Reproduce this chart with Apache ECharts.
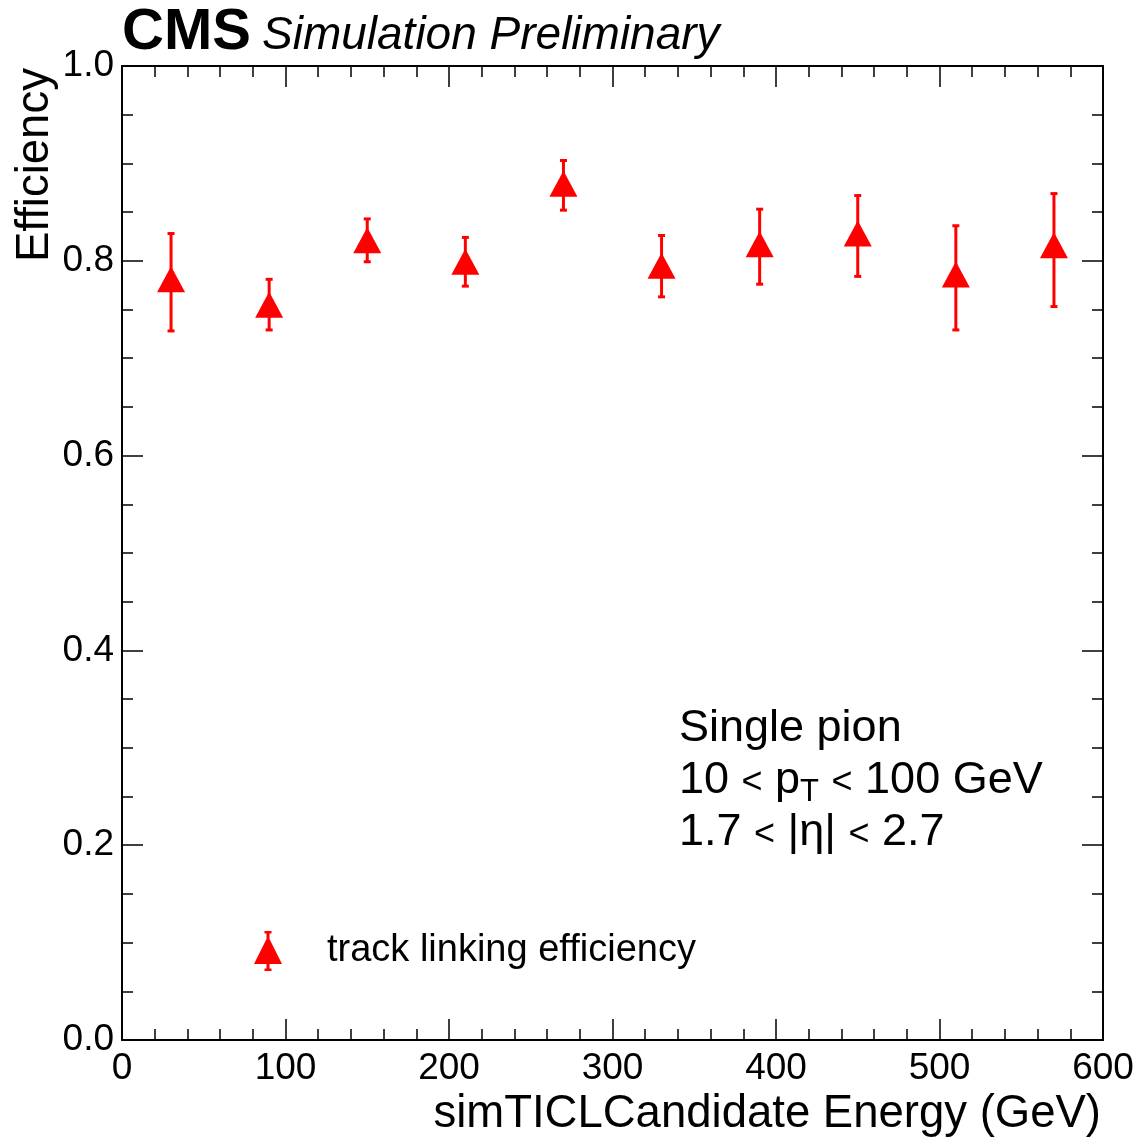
<!DOCTYPE html>
<html><head><meta charset="utf-8">
<script src="https://cdn.jsdelivr.net/npm/echarts@6/dist/echarts.min.js"></script>
<style>html,body{margin:0;padding:0;background:#fff}#c{width:1138px;height:1138px}</style>
</head><body><div id="c"></div>
<script>
// ---- data ----
const energy      = [30, 90, 150, 210, 270, 330, 390, 450, 510, 570];
const efficiency  = [0.781, 0.755, 0.821, 0.799, 0.879, 0.795, 0.817, 0.828, 0.786, 0.816];
const effLow      = [0.728, 0.729, 0.799, 0.774, 0.852, 0.763, 0.776, 0.784, 0.729, 0.753];
const effHigh     = [0.828, 0.781, 0.843, 0.824, 0.903, 0.826, 0.853, 0.867, 0.836, 0.869];
const xTickLabels = ['0', '100', '200', '300', '400', '500', '600'];
const yTickLabels = ['0.0', '0.2', '0.4', '0.6', '0.8', '1.0'];
const seriesName  = 'track linking efficiency';

const FONT = '"Liberation Sans", Arial, Helvetica, sans-serif';
const RED = '#ff0000';

const chart = echarts.init(document.getElementById('c'), null, {renderer: 'canvas'});

// text measurement helper
const mctx = document.createElement('canvas').getContext('2d');
function tw(t, size) { mctx.font = size + 'px ' + FONT; return mctx.measureText(t).width; }
function baseY(b, fs) { return b - 0.3465 * fs; }

// lay out a line of text segments [text, fontSize, baselineShift] left to right
function lineSegments(x0, baseline, segs) {
  const out = [];
  let x = x0;
  segs.forEach(s => {
    const fs = s[1], shift = s[2] || 0;
    out.push({type: 'text', x: x, y: baseY(baseline + shift, fs),
      style: {text: s[0], font: fs + 'px ' + FONT, fill: '#000', align: 'left', verticalAlign: 'middle'}});
    x += tw(s[0], fs);
  });
  return out;
}

const annFs = 45, subFs = 31, ltFs = 36;
const annX = 679;

const axisCommon = {
  type: 'value',
  axisLine: {show: true, onZero: false, lineStyle: {color: '#000', width: 2}},
  axisTick: {show: true, inside: true, length: 21, lineStyle: {color: '#000', width: 1.5}},
  minorTick: {show: true, length: 11, lineStyle: {color: '#000', width: 1.5}},
  splitLine: {show: false},
  minorSplitLine: {show: false}
};

const option = {
  backgroundColor: '#fff',
  animation: false,
  grid: {left: 122, right: 35, top: 66, bottom: 98, containLabel: false},
  xAxis: [
    Object.assign({}, axisCommon, {
      position: 'bottom', min: 0, max: 600, interval: 100,
      minorTick: Object.assign({}, axisCommon.minorTick, {splitNumber: 5}),
      axisLabel: {show: true, margin: 10, fontSize: 37, color: '#000', fontFamily: FONT,
        showMinLabel: true, showMaxLabel: true,
        formatter: v => xTickLabels[Math.round(v / 100)]}
    }),
    Object.assign({}, axisCommon, {
      position: 'top', min: 0, max: 600, interval: 100,
      minorTick: Object.assign({}, axisCommon.minorTick, {splitNumber: 5}),
      axisLabel: {show: false}
    })
  ],
  yAxis: [
    Object.assign({}, axisCommon, {
      position: 'left', min: 0, max: 1, interval: 0.2,
      minorTick: Object.assign({}, axisCommon.minorTick, {splitNumber: 4}),
      axisLabel: {show: true, margin: 8, fontSize: 37, color: '#000', fontFamily: FONT,
        showMinLabel: true, showMaxLabel: true,
        formatter: v => yTickLabels[Math.round(v / 0.2)]}
    }),
    Object.assign({}, axisCommon, {
      position: 'right', min: 0, max: 1, interval: 0.2,
      minorTick: Object.assign({}, axisCommon.minorTick, {splitNumber: 4}),
      axisLabel: {show: false}
    })
  ],
  legend: {
    show: true,
    left: 254, top: 931,
    padding: 0,
    orient: 'vertical',
    itemWidth: 28, itemHeight: 40,
    data: [{
      name: seriesName,
      icon: 'path://M12.5,0 L15.5,0 L15.5,40 L12.5,40 Z M10.5,0 L17.5,0 L17.5,2.5 L10.5,2.5 Z M10.5,37.5 L17.5,37.5 L17.5,40 L10.5,40 Z M14,5 L28,33 L0,33 Z'
    }],
    textStyle: {fontSize: 38, color: '#000', fontFamily: FONT, padding: [6, 0, 0, 40]},
    selectedMode: false
  },
  series: [
    {
      type: 'custom',
      name: 'errors',
      xAxisIndex: 0, yAxisIndex: 0,
      data: energy.map((x, i) => [x, effLow[i], effHigh[i]]),
      encode: {x: 0, y: [1, 2]},
      z: 2,
      renderItem: function (params, api) {
        const x = api.value(0);
        const pLo = api.coord([x, api.value(1)]);
        const pHi = api.coord([x, api.value(2)]);
        const cw = 3.5;
        const st = {stroke: RED, lineWidth: 3};
        return {type: 'group', children: [
          {type: 'line', shape: {x1: pLo[0], y1: pLo[1], x2: pHi[0], y2: pHi[1]}, style: st},
          {type: 'line', shape: {x1: pLo[0] - cw, y1: pLo[1], x2: pLo[0] + cw, y2: pLo[1]}, style: st},
          {type: 'line', shape: {x1: pHi[0] - cw, y1: pHi[1], x2: pHi[0] + cw, y2: pHi[1]}, style: st}
        ]};
      }
    },
    {
      type: 'scatter',
      name: seriesName,
      xAxisIndex: 0, yAxisIndex: 0,
      data: energy.map((x, i) => [x, efficiency[i]]),
      symbol: 'triangle',
      symbolSize: [28, 26],
      itemStyle: {color: RED, opacity: 1},
      emphasis: {disabled: true},
      z: 3
    }
  ],
  graphic: [
    {type: 'text', x: 122, y: baseY(53, 58), style: {text: 'CMS', font: 'bold 58px ' + FONT, fill: '#000', align: 'left', verticalAlign: 'middle'}},
    {type: 'text', x: 262, y: baseY(52, 46), style: {text: 'Simulation Preliminary', font: 'italic 46px ' + FONT, fill: '#000', align: 'left', verticalAlign: 'middle'}},
    {type: 'text', x: 1101, y: baseY(1130, 45.5), style: {text: 'simTICLCandidate Energy (GeV)', font: '45.5px ' + FONT, fill: '#000', align: 'right', verticalAlign: 'middle'}},
    {type: 'text', x: 51 - 0.3465 * 45.5, y: 262, rotation: Math.PI / 2, style: {text: 'Efficiency', font: '45.5px ' + FONT, fill: '#000', align: 'left', verticalAlign: 'middle'}}
  ]
  .concat(lineSegments(annX, 744, [['Single pion', annFs]]))
  .concat(lineSegments(annX, 796, [['10 ', annFs], ['<', ltFs], [' p', annFs], ['T', subFs, 7], [' ', annFs], ['<', ltFs], [' 100 GeV', annFs]]))
  .concat(lineSegments(annX, 848, [['1.7 ', annFs], ['<', ltFs], [' |η| ', annFs], ['<', ltFs], [' 2.7', annFs]]))
};
chart.setOption(option);
</script>
</body></html>
